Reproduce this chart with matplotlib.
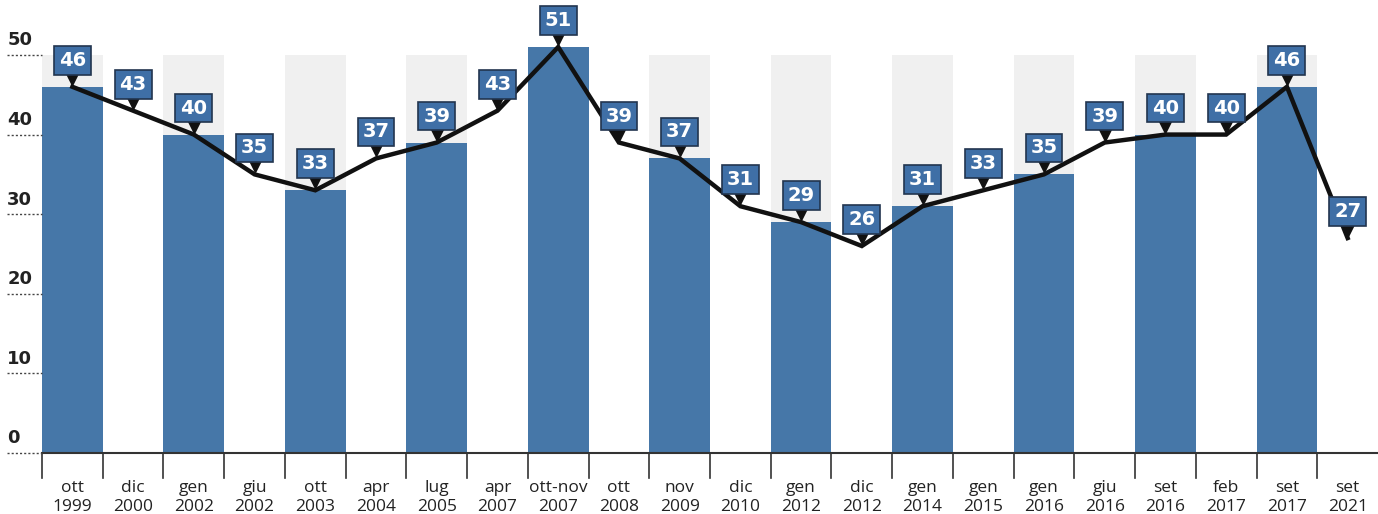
import matplotlib
matplotlib.use("Agg")
import matplotlib.pyplot as plt
import matplotlib.transforms as mtrans

months = ["ott", "dic", "gen", "giu", "ott", "apr", "lug", "apr", "ott-nov", "ott", "nov",
          "dic", "gen", "dic", "gen", "gen", "gen", "giu", "set", "feb", "set", "set"]
years = ["1999", "2000", "2002", "2002", "2003", "2004", "2005", "2007", "2007", "2008", "2009",
         "2010", "2012", "2012", "2014", "2015", "2016", "2016", "2016", "2017", "2017", "2021"]
values = [46, 43, 40, 35, 33, 37, 39, 43, 51, 39, 37, 31, 29, 26, 31, 33, 35, 39, 40, 40, 46, 27]
yticks = [0, 10, 20, 30, 40, 50]

BAR = "#4677a8"
BOX = "#3f6fa6"
BAND = "#f0f0f0"
LABEL_FAMILY = ["Open Sans", "DejaVu Sans"]

fig = plt.figure(figsize=(13.78, 5.14), dpi=100)
ax = fig.add_axes([0.0305, 0.1187, 0.9695, 0.8673])
n = len(values)
ax.set_xlim(-0.5, n - 0.5)
ax.set_ylim(0, 56)

xs = list(range(n))
for i in xs:
    if i % 2 == 0:
        ax.bar(i, 50, width=1.0, color=BAND, zorder=1)
        ax.bar(i, values[i], width=1.0, color=BAR, zorder=2)

ax.plot(xs, values, color="#111111", lw=3.2, zorder=4, solid_joinstyle="miter")

tri = mtrans.offset_copy(ax.transData, fig=fig, x=0, y=8, units="dots")
ax.plot(xs, values, linestyle="none", marker="v", markersize=9, color="#111111",
        transform=tri, zorder=5)

for i, v in zip(xs, values):
    ax.annotate(str(v), xy=(i, v), xytext=(0, 17), textcoords="offset pixels",
                ha="center", va="bottom", fontsize=14, fontweight="bold", color="white",
                bbox=dict(boxstyle="square,pad=0.25", fc=BOX, ec="#22354f", lw=1.2),
                zorder=6)

for s in ["top", "right", "left"]:
    ax.spines[s].set_visible(False)
ax.spines["bottom"].set_color("#333333")
ax.spines["bottom"].set_linewidth(1.5)
ax.set_yticks([])
ax.set_xticks([])

blend = mtrans.blended_transform_factory(ax.transAxes, ax.transData)
for t in yticks:
    ax.plot([-0.026, 0.0], [t, t], transform=blend, clip_on=False, color="#444444",
            lw=1, linestyle=(0, (1.5, 1.5)), zorder=3)
    ax.text(-0.026, t + 0.7, str(t), transform=blend, ha="left", va="bottom",
            fontsize=13, fontweight="bold", color="#222222")

xb = mtrans.blended_transform_factory(ax.transData, ax.transAxes)
for k in range(n):
    b = k - 0.5
    ax.plot([b, b], [0, -0.056], transform=xb, clip_on=False, color="#333333", lw=1.2)
for i in xs:
    ax.text(i, -0.087, months[i], transform=xb, ha="center", va="baseline",
            color="#222222", fontsize=12.5, family=LABEL_FAMILY)
    ax.text(i, -0.131, years[i], transform=xb, ha="center", va="baseline",
            color="#222222", fontsize=12.5, family=LABEL_FAMILY)

fig.savefig("out.png", dpi=100)
